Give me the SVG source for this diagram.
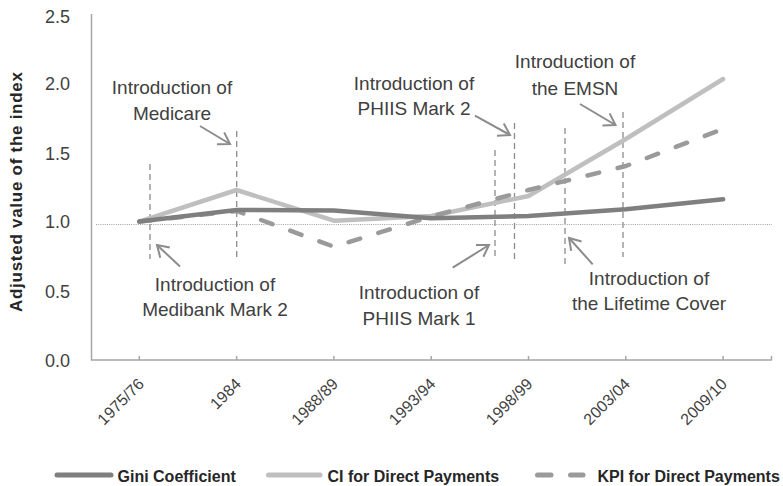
<svg xmlns="http://www.w3.org/2000/svg" width="783" height="486" viewBox="0 0 783 486">
<defs>
<style>
.axis{stroke:#a6a6a6;stroke-width:1.5;fill:none}
.ylab{font-family:"Liberation Sans",Arial,sans-serif;font-size:18px;fill:#404040;text-anchor:end}
.xlab{font-family:"Liberation Sans",Arial,sans-serif;font-size:16px;fill:#404040;text-anchor:end}
.ann{font-family:"Liberation Sans",Arial,sans-serif;font-size:19px;fill:#404040;text-anchor:middle}
.leg{font-family:"Liberation Sans",Arial,sans-serif;font-size:16px;font-weight:bold;fill:#262626}
.title{font-family:"Liberation Sans",Arial,sans-serif;font-size:17px;font-weight:bold;fill:#262626;text-anchor:middle}
.vd{stroke:#8c8c8c;stroke-width:1.3;stroke-dasharray:6 4;fill:none}
.arr{stroke:#8c8c8c;stroke-width:2;fill:none;marker-end:url(#ah)}
.gini{stroke:#7f7f7f;stroke-width:4.5;fill:none;stroke-linecap:round;stroke-linejoin:round}
.ci{stroke:#bfbfbf;stroke-width:4.5;fill:none;stroke-linecap:round;stroke-linejoin:round}
.kpi{stroke:#9a9a9a;stroke-width:4.5;fill:none;stroke-linecap:round;stroke-linejoin:round;stroke-dasharray:12 19}
</style>
<marker id="ah" markerUnits="userSpaceOnUse" markerWidth="30" markerHeight="30" refX="0" refY="0" viewBox="-15 -15 30 30" orient="auto">
<path d="M-11,-7 L0,0 L-11,7" fill="none" stroke="#8c8c8c" stroke-width="2"/>
</marker>
</defs>
<rect width="783" height="486" fill="#ffffff"/>

<g id="axes">
<path class="axis" d="M91.5,14 V360 H772"/>
<path class="axis" d="M139.3,360v-4 M236.6,360v-4 M333.9,360v-4 M431.2,360v-4 M528.5,360v-4 M625.8,360v-4 M723.1,360v-4 M771.5,360v-4"/>
<text class="ylab" x="70" y="23">2.5</text>
<text class="ylab" x="70" y="90">2.0</text>
<text class="ylab" x="70" y="159.5">1.5</text>
<text class="ylab" x="70" y="228">1.0</text>
<text class="ylab" x="70" y="297.5">0.5</text>
<text class="ylab" x="70" y="367">0.0</text>
<text class="title" transform="translate(22,192) rotate(-90)" textLength="240" lengthAdjust="spacing">Adjusted value of the index</text>
<text class="xlab" transform="translate(145,385) rotate(-45)">1975/76</text>
<text class="xlab" transform="translate(242,385) rotate(-45)">1984</text>
<text class="xlab" transform="translate(339,385) rotate(-45)">1988/89</text>
<text class="xlab" transform="translate(436.5,385) rotate(-45)">1993/94</text>
<text class="xlab" transform="translate(533.5,385) rotate(-45)">1998/99</text>
<text class="xlab" transform="translate(631,385) rotate(-45)">2003/04</text>
<text class="xlab" transform="translate(728,385) rotate(-45)">2009/10</text>
<line x1="96" y1="224.5" x2="772" y2="224.5" stroke="#a0a0a0" stroke-width="1" stroke-dasharray="1 1.2"/>
</g>

<g id="connectors">
<line class="vd" x1="150" y1="164" x2="150" y2="259"/>
<line class="vd" x1="236.7" y1="131" x2="236.7" y2="258"/>
<line class="vd" x1="495" y1="150" x2="495" y2="257"/>
<line class="vd" x1="514.5" y1="123" x2="514.5" y2="263"/>
<line class="vd" x1="565" y1="128" x2="565" y2="267"/>
<line class="vd" x1="623" y1="112" x2="623" y2="257"/>
<line class="arr" x1="200" y1="126" x2="230" y2="144"/>
<line class="arr" x1="180" y1="266.5" x2="157" y2="245"/>
<line class="arr" x1="475" y1="115.7" x2="510" y2="135"/>
<line class="arr" x1="452.7" y1="267.7" x2="489" y2="245"/>
<line class="arr" x1="580" y1="104" x2="615.5" y2="125"/>
<line class="arr" x1="592.7" y1="264.3" x2="569" y2="238"/>
</g>

<g id="series">
<polyline id="ci-line" class="ci" points="139.3,221.6 236.6,190 333.9,220.7 431.2,216 528.5,196 625.8,139 723.1,79"/>
<polyline id="kpi-line" class="kpi" points="139.3,221.6 236.6,211 333.9,246.7 431.2,216.5 528.5,190 625.8,166 723.1,129"/>
<polyline id="gini-line" class="gini" points="139.3,221.6 236.6,210 333.9,210.5 431.2,218.3 528.5,216 625.8,209.3 723.1,199.3"/>
</g>

<g id="label-medicare"><text class="ann" x="172" y="94">Introduction of</text><text class="ann" x="172" y="119.5">Medicare</text></g>
<g id="label-medibank"><text class="ann" x="215" y="290.5">Introduction of</text><text class="ann" x="215" y="315.5">Medibank Mark 2</text></g>
<g id="label-phiis2"><text class="ann" x="414" y="90">Introduction of</text><text class="ann" x="414" y="115">PHIIS Mark 2</text></g>
<g id="label-phiis1"><text class="ann" x="419" y="298.5">Introduction of</text><text class="ann" x="419" y="325">PHIIS Mark 1</text></g>
<g id="label-emsn"><text class="ann" x="575" y="68">Introduction of</text><text class="ann" x="575" y="94.5">the EMSN</text></g>
<g id="label-lifetime"><text class="ann" x="649" y="285">Introduction of</text><text class="ann" x="649" y="310">the Lifetime Cover</text></g>

<g id="legend">
<line x1="57" y1="475" x2="111" y2="475" stroke="#7f7f7f" stroke-width="5" stroke-linecap="round"/>
<text class="leg" x="117.5" y="481.5">Gini Coefficient</text>
<line x1="268.5" y1="475" x2="320" y2="475" stroke="#bfbfbf" stroke-width="5" stroke-linecap="round"/>
<text class="leg" x="327.5" y="481.5">CI for Direct Payments</text>
<line x1="537.5" y1="475" x2="551" y2="475" stroke="#9a9a9a" stroke-width="5" stroke-linecap="round"/>
<line x1="570.5" y1="475" x2="583" y2="475" stroke="#9a9a9a" stroke-width="5" stroke-linecap="round"/>
<text class="leg" x="597.5" y="481.5">KPI for Direct Payments</text>
</g>
</svg>
